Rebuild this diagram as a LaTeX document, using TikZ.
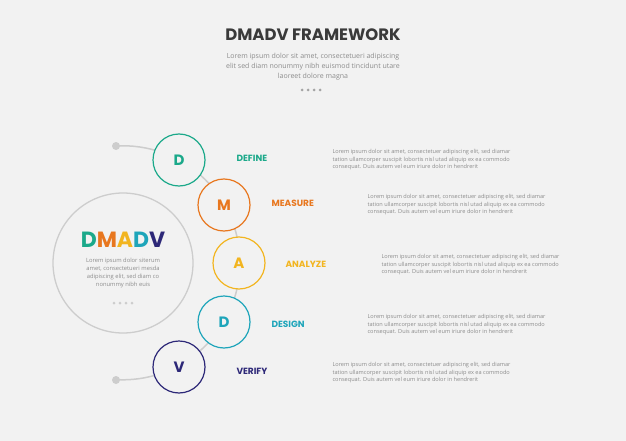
\documentclass[tikz,border=0pt]{standalone}
\usepackage{fontspec}
\setmainfont{Open Sans}
\newfontfamily\headfont{Poppins}
\definecolor{bgc}{HTML}{F2F2F2}
\definecolor{cD}{HTML}{1BA98A}
\definecolor{cM}{HTML}{E8771F}
\definecolor{cA}{HTML}{F2B520}
\definecolor{cE}{HTML}{1EA5BA}
\definecolor{cV}{HTML}{2D2878}
\definecolor{txt}{HTML}{8C8C8C}
\definecolor{lin}{HTML}{CDCDCD}
\tikzset{
  stepcircle/.style={circle, draw=#1, line width=1.2pt, fill=bgc, minimum size=52pt, inner sep=0pt,
    text=#1, font=\headfont\fontsize{15}{15}\selectfont\bfseries},
  steplabel/.style={anchor=west, text=#1, font=\headfont\fontsize{9}{9}\selectfont\bfseries},
  bodytext/.style={anchor=west, align=left, text=txt, font=\fontsize{5.6}{7.5}\selectfont},
}
\begin{document}
\begin{tikzpicture}[x=1pt,y=-1pt]
    \fill[bgc] (0,0) rectangle (626,441);
    \useasboundingbox (0,0) rectangle (626,441);
    % title
    \node (title) at (313,35) {\headfont\fontsize{16.5}{16.5}\selectfont\bfseries\color[HTML]{3A3A3A}DMADV FRAMEWORK};
    \node[align=center, text=txt, font=\fontsize{7}{10}\selectfont] (sub) at (313,67)
        {Lorem ipsum dolor sit amet, consectetueri adipiscing\\elit sed diam nonummy nibh euismod tincidunt utare\\laoreet dolore magna};
    \foreach \i in {0,1,2,3}
        \fill[lin!80!black] (302+\i*6,90) circle (1.5);
    % arc and main circle
    \coordinate (hub) at (123,263);
    \draw[lin, line width=1.5pt] (116,146) arc[start angle=-93.4, end angle=93.4, radius=117];
    \fill[lin] (116,146) circle (4);
    \fill[lin] (116,380) circle (4);
    \node[circle, draw=lin, line width=1.3pt, minimum size=140pt] (core) at (hub) {};
    \node (coretitle) at (123,240) {\headfont\fontsize{22}{22}\selectfont\bfseries
        \textcolor{cD}{D}\textcolor{cM}{M}\textcolor{cA}{A}\textcolor{cE}{D}\textcolor{cV}{V}};
    \node[align=center, text=txt, font=\fontsize{5.8}{8}\selectfont] (coretext) at (123,273)
        {Lorem ipsum dolor siterum\\amet, consectetueri mesda\\adipiscing elit, sed diam co\\nonummy nibh euis};
    \foreach \i in {0,1,2,3}
        \fill[lin] (114+\i*6,303) circle (1.5);
    % steps
    \node[stepcircle=cD] (define) at (179,160) {D};
    \node[stepcircle=cM] (measure) at (224,205) {M};
    \node[stepcircle=cA] (analyze) at (239,263) {A};
    \node[stepcircle=cE] (design) at (224,322) {D};
    \node[stepcircle=cV] (verify) at (179,367) {V};
    \node[steplabel=cD] (ldefine) at (233,158) {DEFINE};
    \node[steplabel=cM] (lmeasure) at (268,203) {MEASURE};
    \node[steplabel=cA] (lanalyze) at (282,264) {ANALYZE};
    \node[steplabel=cE] (ldesign) at (268,324) {DESIGN};
    \node[steplabel=cV] (lverify) at (233,371) {VERIFY};
    \foreach \nm/\x/\y in {tdefine/329/160, tmeasure/364/205, tanalyze/378/265, tdesign/364/325, tverify/329/373}
        \node[bodytext] (\nm) at (\x,\y) {Lorem ipsum dolor sit amet, consectetuer adipiscing elit, sed diamar\\tation ullamcorper suscipit lobortis nisl utad aliquip ex ea commodo\\consequat. Duis autem vel eum iriure dolor in hendrerit};
\end{tikzpicture}
\end{document}
